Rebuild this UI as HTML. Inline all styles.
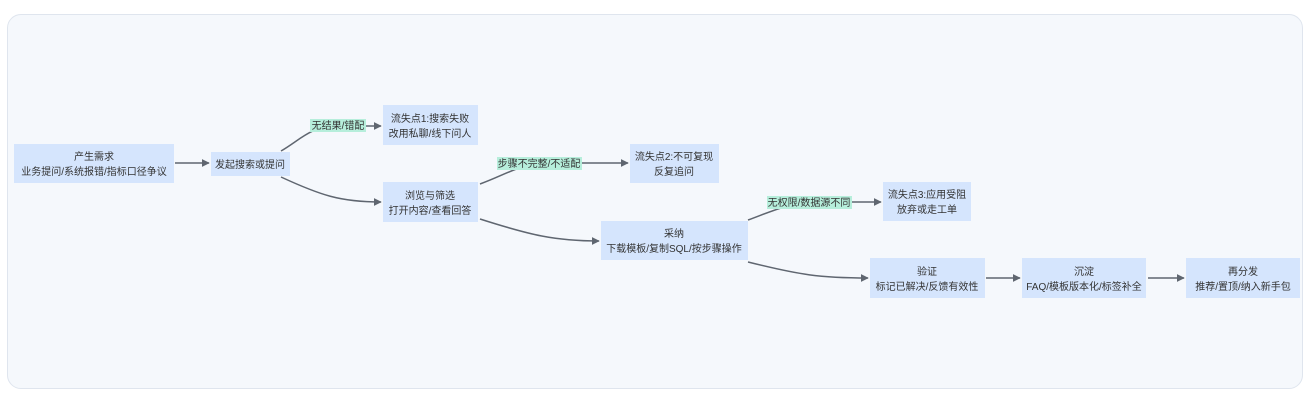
<!DOCTYPE html>
<html><head><meta charset="utf-8"><style>
html,body{margin:0;padding:0;background:#fff;}
body{width:1314px;height:400px;overflow:hidden;position:relative;}
.box{position:absolute;left:7px;top:14px;width:1296px;height:375px;border:1px solid #dfe5ee;border-radius:14px;background:#f5f8fc;box-sizing:border-box;}
svg{position:absolute;left:0;top:0;}
text{font-family:"Liberation Sans","Noto Sans CJK SC",sans-serif;font-size:10px;fill:#333;}
</style></head><body>
<div class="box"></div>
<svg width="1314" height="400" viewBox="0 0 1314 400">
<defs><marker id="a" viewBox="0 0 10 10" refX="9" refY="5" markerWidth="8" markerHeight="8" markerUnits="userSpaceOnUse" orient="auto"><path d="M0,0L10,5L0,10z" fill="#5f6670"/></marker></defs>
<g fill="#d5e5fd">
<rect x="14" y="144" width="160" height="39"/>
<rect x="211" y="152" width="79" height="24"/>
<rect x="383" y="105" width="95" height="40"/>
<rect x="383" y="182" width="95" height="40"/>
<rect x="630" y="144" width="89" height="39"/>
<rect x="601" y="221" width="147" height="39"/>
<rect x="883" y="182" width="88" height="39"/>
<rect x="870" y="258" width="115" height="40"/>
<rect x="1022" y="258" width="124" height="40"/>
<rect x="1186" y="258" width="114" height="40"/>
</g>
<g fill="none" stroke="#5f6670" stroke-width="1.5" marker-end="url(#a)">
<path d="M175,163L209,163"/>
<path d="M281,151C300,140 310,127 335,126L381,126"/>
<path d="M281,177C320,195 340,202 381,202"/>
<path d="M480,184C505,175 520,164 545,163L628,163"/>
<path d="M480,219C530,235 555,241 599,241"/>
<path d="M748,220C770,212 790,202 820,202L881,202"/>
<path d="M748,262C800,275 820,278 868,278"/>
<path d="M986,278L1020,278"/>
<path d="M1148,278L1184,278"/>
</g>
<g fill="#b6eedb">
<rect x="310" y="119" width="56" height="13"/>
<rect x="497" y="157" width="85" height="13"/>
<rect x="767" y="196" width="85" height="13"/>
</g>
<g text-anchor="middle">
<text x="94" y="160">产生需求</text><text x="94" y="175">业务提问/系统报错/指标口径争议</text>
<text x="250" y="168">发起搜索或提问</text>
<text x="430" y="122">流失点1:搜索失败</text><text x="430" y="137">改用私聊/线下问人</text>
<text x="430" y="199">浏览与筛选</text><text x="430" y="214">打开内容/查看回答</text>
<text x="674" y="160">流失点2:不可复现</text><text x="674" y="175">反复追问</text>
<text x="674" y="237">采纳</text><text x="674" y="252">下载模板/复制SQL/按步骤操作</text>
<text x="927" y="198">流失点3:应用受阻</text><text x="927" y="213">放弃或走工单</text>
<text x="927" y="275">验证</text><text x="927" y="290">标记已解决/反馈有效性</text>
<text x="1084" y="275">沉淀</text><text x="1084" y="290">FAQ/模板版本化/标签补全</text>
<text x="1243" y="275">再分发</text><text x="1243" y="290">推荐/置顶/纳入新手包</text>
<text x="338" y="129">无结果/错配</text>
<text x="539" y="167">步骤不完整/不适配</text>
<text x="809" y="206">无权限/数据源不同</text>
</g>
</svg>
</body></html>
